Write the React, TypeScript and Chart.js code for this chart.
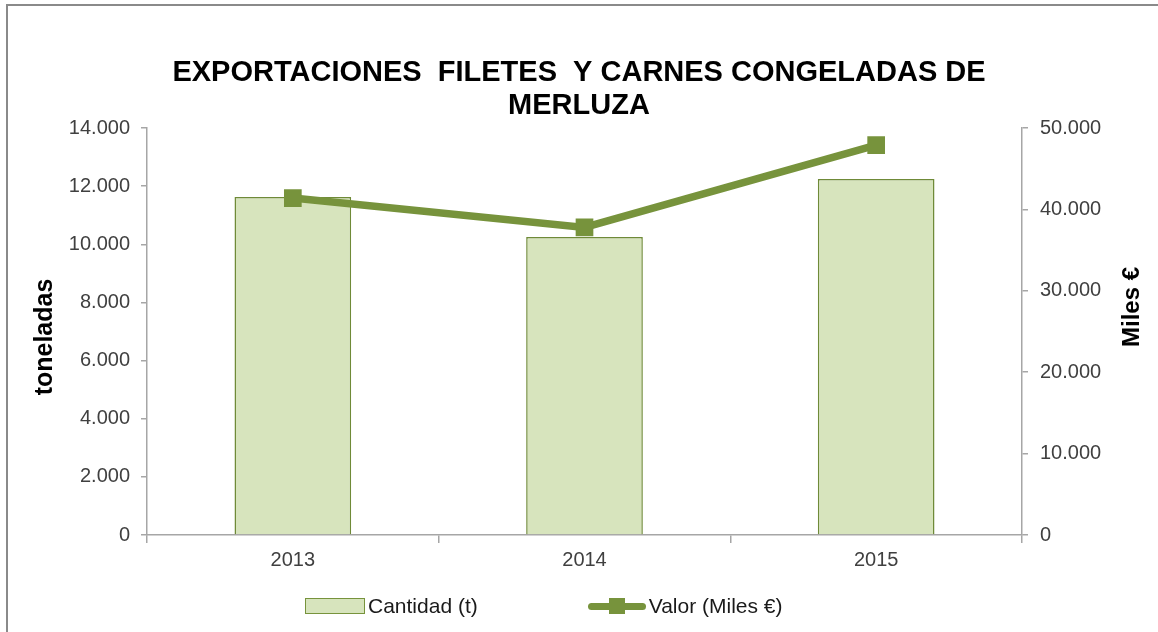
import React, { useEffect, useRef } from "react";
import { Chart, registerables } from "chart.js";

Chart.register(...registerables);

const years = ["2013", "2014", "2015"];
const cantidad = [11630, 10250, 12250];
const valor = [41400, 37800, 47900];
const leftTicksMax = 14000;
const leftStep = 2000;
const rightTicksMax = 50000;
const rightStep = 10000;
const titleLines = ["EXPORTACIONES  FILETES  Y CARNES CONGELADAS DE", "MERLUZA"];
const leftAxisTitle = "toneladas";
const rightAxisTitle = "Miles €";
const seriesNames = ["Cantidad (t)", "Valor (Miles €)"];

const FONT = "'Liberation Sans', Arial, sans-serif";
const BAR_FILL = "#d7e4bd";
const GREEN = "#77933c";
const AXIS = "#a6a6a6";
const TICK_TEXT = "#404040";

const fmt = (v: number) => String(v).replace(/\B(?=(\d{3})+(?!\d))/g, ".");

const axisTitles = {
  id: "axisTitles",
  afterDraw(chart: any) {
    const ctx = chart.ctx;
    ctx.save();
    ctx.fillStyle = "#000";
    ctx.font = `bold 25px ${FONT}`;
    ctx.textAlign = "center";
    ctx.textBaseline = "middle";
    ctx.translate(45, 337);
    ctx.rotate(-Math.PI / 2);
    ctx.fillText(leftAxisTitle, 0, 0);
    ctx.restore();
    ctx.save();
    ctx.fillStyle = "#000";
    ctx.font = `bold 24px ${FONT}`;
    ctx.textAlign = "center";
    ctx.textBaseline = "middle";
    ctx.translate(1132, 307);
    ctx.rotate(-Math.PI / 2);
    ctx.fillText(rightAxisTitle, 0, 0);
    ctx.restore();
  },
};

export default function App() {
  const ref = useRef<HTMLCanvasElement | null>(null);
  useEffect(() => {
    if (!ref.current) return;
    const chart = new Chart(ref.current, {
      type: "bar",
      data: {
        labels: years,
        datasets: [
          {
            type: "line",
            label: seriesNames[1],
            data: valor,
            yAxisID: "y1",
            borderColor: GREEN,
            backgroundColor: GREEN,
            borderWidth: 7.5,
            pointStyle: "rect",
            pointRadius: 12.5,
            pointBackgroundColor: GREEN,
            pointBorderColor: GREEN,
            pointBorderWidth: 0,
            tension: 0,
            order: 0,
          } as any,
          {
            type: "bar",
            label: seriesNames[0],
            data: cantidad,
            yAxisID: "y",
            backgroundColor: BAR_FILL,
            borderColor: "#6f8a38",
            borderWidth: 1.5,
            barPercentage: 0.4,
            categoryPercentage: 1,
            order: 1,
          },
        ],
      },
      options: {
        responsive: false,
        animation: false,
        layout: { padding: 0 },
        plugins: {
          legend: { display: false },
          tooltip: { enabled: false },
          title: {
            display: true,
            text: titleLines,
            color: "#000",
            font: { family: FONT, size: 29, weight: "bold", lineHeight: 1.14 },
            padding: { top: 56, bottom: 6 },
          },
        },
        scales: {
          x: {
            type: "category",
            offset: true,
            grid: {
              display: true,
              offset: true,
              drawOnChartArea: false,
              drawTicks: true,
              tickLength: 8,
              color: AXIS,
              lineWidth: 1.5,
            },
            border: { display: true, color: AXIS, width: 1.5 },
            ticks: { color: TICK_TEXT, font: { family: FONT, size: 20 }, padding: 5 },
            afterFit: (s: any) => {
              s.height = 97;
            },
          },
          y: {
            type: "linear",
            position: "left",
            min: 0,
            max: leftTicksMax,
            grid: { drawOnChartArea: false, tickLength: 6, color: AXIS, lineWidth: 1.5 },
            border: { display: true, color: AXIS, width: 1.5 },
            ticks: {
              stepSize: leftStep,
              color: TICK_TEXT,
              font: { family: FONT, size: 20 },
              padding: 11,
              callback: (v: any) => fmt(Number(v)),
            },
            afterFit: (s: any) => {
              s.width = 147;
            },
          },
          y1: {
            type: "linear",
            position: "right",
            min: 0,
            max: rightTicksMax,
            grid: { drawOnChartArea: false, tickLength: 6, color: AXIS, lineWidth: 1.5 },
            border: { display: true, color: AXIS, width: 1.5 },
            ticks: {
              stepSize: rightStep,
              color: TICK_TEXT,
              font: { family: FONT, size: 20 },
              padding: 12,
              callback: (v: any) => fmt(Number(v)),
            },
            afterFit: (s: any) => {
              s.width = 136;
            },
          },
        },
      },
      plugins: [axisTitles],
    });
    return () => chart.destroy();
  }, []);

  return (
    <div
      style={{
        position: "fixed",
        left: 0,
        top: 0,
        width: 1158,
        height: 632,
        overflow: "hidden",
        background: "#fff",
        fontFamily: FONT,
      }}
    >
      <canvas ref={ref} width={1158} height={632} style={{ position: "absolute", left: 0, top: 0 }} />
      <div
        style={{
          position: "absolute",
          left: 6,
          top: 4,
          width: 1200,
          height: 700,
          borderLeft: "2px solid #8a8a8a",
          borderTop: "2px solid #8a8a8a",
          pointerEvents: "none",
        }}
      />
      <div
        style={{
          position: "absolute",
          left: 305,
          top: 593,
          height: 26,
          display: "flex",
          alignItems: "center",
          fontSize: 21,
          color: "#1a1a1a",
          whiteSpace: "nowrap",
        }}
      >
        <div
          style={{
            width: 58,
            height: 14,
            background: BAR_FILL,
            border: `1px solid ${GREEN}`,
            marginRight: 3,
          }}
        />
        <span>{seriesNames[0]}</span>
        <div style={{ width: 110 }} />
        <div style={{ position: "relative", width: 58, height: 18, marginRight: 3 }}>
          <div
            style={{
              position: "absolute",
              left: 0,
              top: 5.5,
              width: 58,
              height: 7,
              background: GREEN,
              borderRadius: 3.5,
            }}
          />
          <div
            style={{
              position: "absolute",
              left: 21,
              top: 1,
              width: 16,
              height: 16,
              background: GREEN,
            }}
          />
        </div>
        <span>{seriesNames[1]}</span>
      </div>
    </div>
  );
}
